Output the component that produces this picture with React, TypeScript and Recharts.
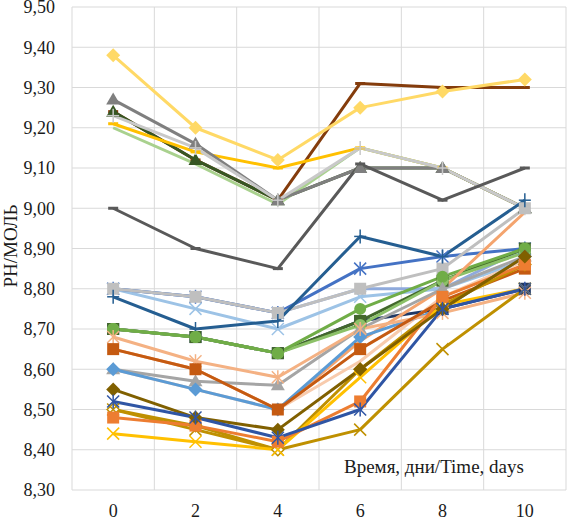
import React from "react";
import { LineChart, Line, XAxis, YAxis, CartesianGrid } from "recharts";

// days of observation and axis ticks
const days = [0, 2, 4, 6, 8, 10];
const gridDays = [-1, 1, 3, 5, 7, 9, 11];
const yTicks = [8.3, 8.4, 8.5, 8.6, 8.7, 8.8, 8.9, 9.0, 9.1, 9.2, 9.3, 9.4, 9.5];

// series values, one array per sample
const brown = [9.24, 9.12, 9.02, 9.31, 9.3, 9.3];
const darkGreenTri = [9.24, 9.12, 9.02, 9.1, 9.1, 9.0];
const goldDash = [9.21, 9.14, 9.1, 9.15, 9.1, 9.0];
const lightGreen = [9.2, 9.11, 9.01, 9.15, 9.1, 9.0];
const grayTri = [9.27, 9.16, 9.02, 9.1, 9.1, 9.0];
const lightGrayPlus = [9.23, 9.15, 9.02, 9.15, 9.1, 9.0];
const yellowDiamond = [9.38, 9.2, 9.12, 9.25, 9.29, 9.32];
const darkGrayDash = [9.0, 8.9, 8.85, 9.11, 9.02, 9.1];

const blueLine = [8.8, 8.78, 8.74, 8.8, 8.8, 8.9];
const lightBlueX = [8.8, 8.75, 8.7, 8.78, 8.8, 8.87];
const medBlueStar = [8.8, 8.78, 8.74, 8.85, 8.88, 8.9];
const lightGraySq = [8.8, 8.78, 8.74, 8.8, 8.85, 9.0];
const darkBluePlus = [8.78, 8.7, 8.72, 8.93, 8.88, 9.02];

const navySq = [8.7, 8.68, 8.64, 8.72, 8.75, 8.8];
const greenSq = [8.7, 8.68, 8.64, 8.72, 8.82, 8.9];
const paleGreenCircle = [8.7, 8.68, 8.64, 8.71, 8.82, 8.89];
const greenCircle = [8.7, 8.68, 8.64, 8.75, 8.83, 8.9];

const peach = [8.65, 8.6, 8.5, 8.67, 8.8, 8.99];
const salmon = [8.6, 8.55, 8.5, 8.62, 8.78, 8.87];
const grayTri2 = [8.6, 8.57, 8.56, 8.7, 8.8, 8.88];
const blueDiamond = [8.6, 8.55, 8.5, 8.68, 8.75, 8.88];
const lightOrangeStar = [8.68, 8.62, 8.58, 8.7, 8.74, 8.79];
const orangeSq = [8.65, 8.6, 8.5, 8.65, 8.77, 8.85];

const goldOpenDiamond = [8.5, 8.46, 8.4, 8.6, 8.76, 8.86];
const goldX = [8.5, 8.45, 8.4, 8.45, 8.65, 8.8];
const yellowX = [8.44, 8.42, 8.4, 8.58, 8.76, 8.8];
const orangeSq2 = [8.48, 8.46, 8.42, 8.52, 8.78, 8.86];
const oliveDiamond = [8.55, 8.48, 8.45, 8.6, 8.75, 8.88];
const blueStar = [8.52, 8.48, 8.43, 8.5, 8.75, 8.8];

type Shape =
  | "none"
  | "diamond"
  | "openDiamond"
  | "square"
  | "triangle"
  | "circle"
  | "x"
  | "plus"
  | "star"
  | "dash";

const SERIES: { key: string; values: number[]; color: string; shape: Shape }[] = [
  { key: "brown", values: brown, color: "#843C0C", shape: "dash" },
  { key: "darkGreenTri", values: darkGreenTri, color: "#375623", shape: "triangle" },
  { key: "goldDash", values: goldDash, color: "#FFC000", shape: "dash" },
  { key: "lightGreen", values: lightGreen, color: "#A9D18E", shape: "none" },
  { key: "grayTri", values: grayTri, color: "#7F7F7F", shape: "triangle" },
  { key: "lightGrayPlus", values: lightGrayPlus, color: "#C9C9C9", shape: "plus" },
  { key: "yellowDiamond", values: yellowDiamond, color: "#FFD966", shape: "diamond" },
  { key: "darkGrayDash", values: darkGrayDash, color: "#595959", shape: "dash" },
  { key: "blueLine", values: blueLine, color: "#8FAADC", shape: "none" },
  { key: "lightBlueX", values: lightBlueX, color: "#9DC3E6", shape: "x" },
  { key: "medBlueStar", values: medBlueStar, color: "#4472C4", shape: "star" },
  { key: "lightGraySq", values: lightGraySq, color: "#BFBFBF", shape: "square" },
  { key: "darkBluePlus", values: darkBluePlus, color: "#255E91", shape: "plus" },
  { key: "navySq", values: navySq, color: "#203864", shape: "square" },
  { key: "greenSq", values: greenSq, color: "#43682B", shape: "square" },
  { key: "paleGreenCircle", values: paleGreenCircle, color: "#8CC168", shape: "circle" },
  { key: "greenCircle", values: greenCircle, color: "#70AD47", shape: "circle" },
  { key: "peach", values: peach, color: "#F4A46E", shape: "none" },
  { key: "salmon", values: salmon, color: "#F8CBAD", shape: "none" },
  { key: "grayTri2", values: grayTri2, color: "#A5A5A5", shape: "triangle" },
  { key: "blueDiamond", values: blueDiamond, color: "#5B9BD5", shape: "diamond" },
  { key: "lightOrangeStar", values: lightOrangeStar, color: "#F4B183", shape: "star" },
  { key: "orangeSq", values: orangeSq, color: "#C55A11", shape: "square" },
  { key: "goldOpenDiamond", values: goldOpenDiamond, color: "#BF9000", shape: "openDiamond" },
  { key: "goldX", values: goldX, color: "#BF9000", shape: "x" },
  { key: "yellowX", values: yellowX, color: "#FFC000", shape: "x" },
  { key: "orangeSq2", values: orangeSq2, color: "#ED7D31", shape: "square" },
  { key: "oliveDiamond", values: oliveDiamond, color: "#806000", shape: "diamond" },
  { key: "blueStar", values: blueStar, color: "#2F55A4", shape: "star" },
];

const data = days.map((day, i) => {
  const row: Record<string, number> = { day };
  SERIES.forEach((s) => {
    row[s.key] = s.values[i];
  });
  return row;
});

const FONT = '"Liberation Serif", "Times New Roman", serif';

function Marker({
  cx,
  cy,
  shape,
  color,
}: {
  cx?: number;
  cy?: number;
  shape: Shape;
  color: string;
}) {
  if (cx == null || cy == null || shape === "none") return null;
  switch (shape) {
    case "diamond":
      return (
        <polygon
          points={`${cx},${cy - 7} ${cx + 7},${cy} ${cx},${cy + 7} ${cx - 7},${cy}`}
          fill={color}
        />
      );
    case "openDiamond":
      return (
        <polygon
          points={`${cx},${cy - 6} ${cx + 6},${cy} ${cx},${cy + 6} ${cx - 6},${cy}`}
          fill="#fff"
          stroke={color}
          strokeWidth={1.5}
        />
      );
    case "square":
      return <rect x={cx - 6} y={cy - 6} width={12} height={12} fill={color} />;
    case "triangle":
      return (
        <polygon
          points={`${cx},${cy - 7} ${cx + 7},${cy + 5} ${cx - 7},${cy + 5}`}
          fill={color}
        />
      );
    case "circle":
      return <circle cx={cx} cy={cy} r={6} fill={color} />;
    case "x":
      return (
        <g stroke={color} strokeWidth={1.5}>
          <line x1={cx - 6} y1={cy - 6} x2={cx + 6} y2={cy + 6} />
          <line x1={cx - 6} y1={cy + 6} x2={cx + 6} y2={cy - 6} />
        </g>
      );
    case "plus":
      return (
        <g stroke={color} strokeWidth={1.5}>
          <line x1={cx - 6} y1={cy} x2={cx + 6} y2={cy} />
          <line x1={cx} y1={cy - 7} x2={cx} y2={cy + 7} />
        </g>
      );
    case "star":
      return (
        <g stroke={color} strokeWidth={1.5}>
          <line x1={cx - 6} y1={cy - 6} x2={cx + 6} y2={cy + 6} />
          <line x1={cx - 6} y1={cy + 6} x2={cx + 6} y2={cy - 6} />
          <line x1={cx} y1={cy - 7} x2={cx} y2={cy + 7} />
        </g>
      );
    case "dash":
      return (
        <line x1={cx - 5} y1={cy} x2={cx + 5} y2={cy} stroke={color} strokeWidth={3} />
      );
    default:
      return null;
  }
}

export default function App() {
  return (
    <div
      style={{
        position: "absolute",
        left: 0,
        top: 0,
        width: 567,
        height: 520,
        background: "#fff",
        fontFamily: FONT,
      }}
    >
      <LineChart
        width={567}
        height={520}
        data={data}
        margin={{ top: 7, right: 1, left: 0, bottom: 0 }}
      >
        <CartesianGrid
          stroke="#D9D9D9"
          strokeWidth={1}
          verticalCoordinatesGenerator={({ xAxis, offset }: any) =>
            xAxis && typeof xAxis.scale === "function"
              ? gridDays.map((v) => xAxis.scale(v))
              : gridDays.map((v) => offset.left + ((v + 1) / 12) * offset.width)
          }
        />
        <XAxis
          dataKey="day"
          type="number"
          domain={[-1, 11]}
          ticks={days}
          interval={0}
          axisLine={false}
          tickLine={false}
          tickSize={0}
          tickMargin={14}
          height={30}
          tick={{ fill: "#1a1a1a", fontSize: 18, fontFamily: FONT }}
        />
        <YAxis
          domain={[8.3, 9.5]}
          ticks={yTicks}
          interval={0}
          width={72}
          axisLine={false}
          tickLine={false}
          tickSize={0}
          tickMargin={17}
          tickFormatter={(v: number) => v.toFixed(2).replace(".", ",")}
          tick={{ fill: "#1a1a1a", fontSize: 18, fontFamily: FONT }}
        />
        {SERIES.map((s) => (
          <Line
            key={s.key}
            dataKey={s.key}
            stroke={s.color}
            strokeWidth={3}
            strokeLinejoin="round"
            isAnimationActive={false}
            activeDot={false}
            dot={(p: any) => (
              <Marker
                key={`${s.key}-${p.index}`}
                cx={p.cx}
                cy={p.cy}
                shape={s.shape}
                color={s.color}
              />
            )}
          />
        ))}
      </LineChart>
      <div
        style={{
          position: "absolute",
          left: 11,
          top: 246,
          transform: "translate(-50%, -50%) rotate(-90deg)",
          fontSize: 19,
          lineHeight: "20px",
          color: "#1a1a1a",
          whiteSpace: "nowrap",
        }}
      >
        РН/МОЛЬ
      </div>
      <div
        style={{
          position: "absolute",
          left: 344,
          top: 457,
          fontSize: 19,
          lineHeight: "20px",
          color: "#1a1a1a",
          whiteSpace: "nowrap",
        }}
      >
        Время, дни/Time, days
      </div>
    </div>
  );
}
